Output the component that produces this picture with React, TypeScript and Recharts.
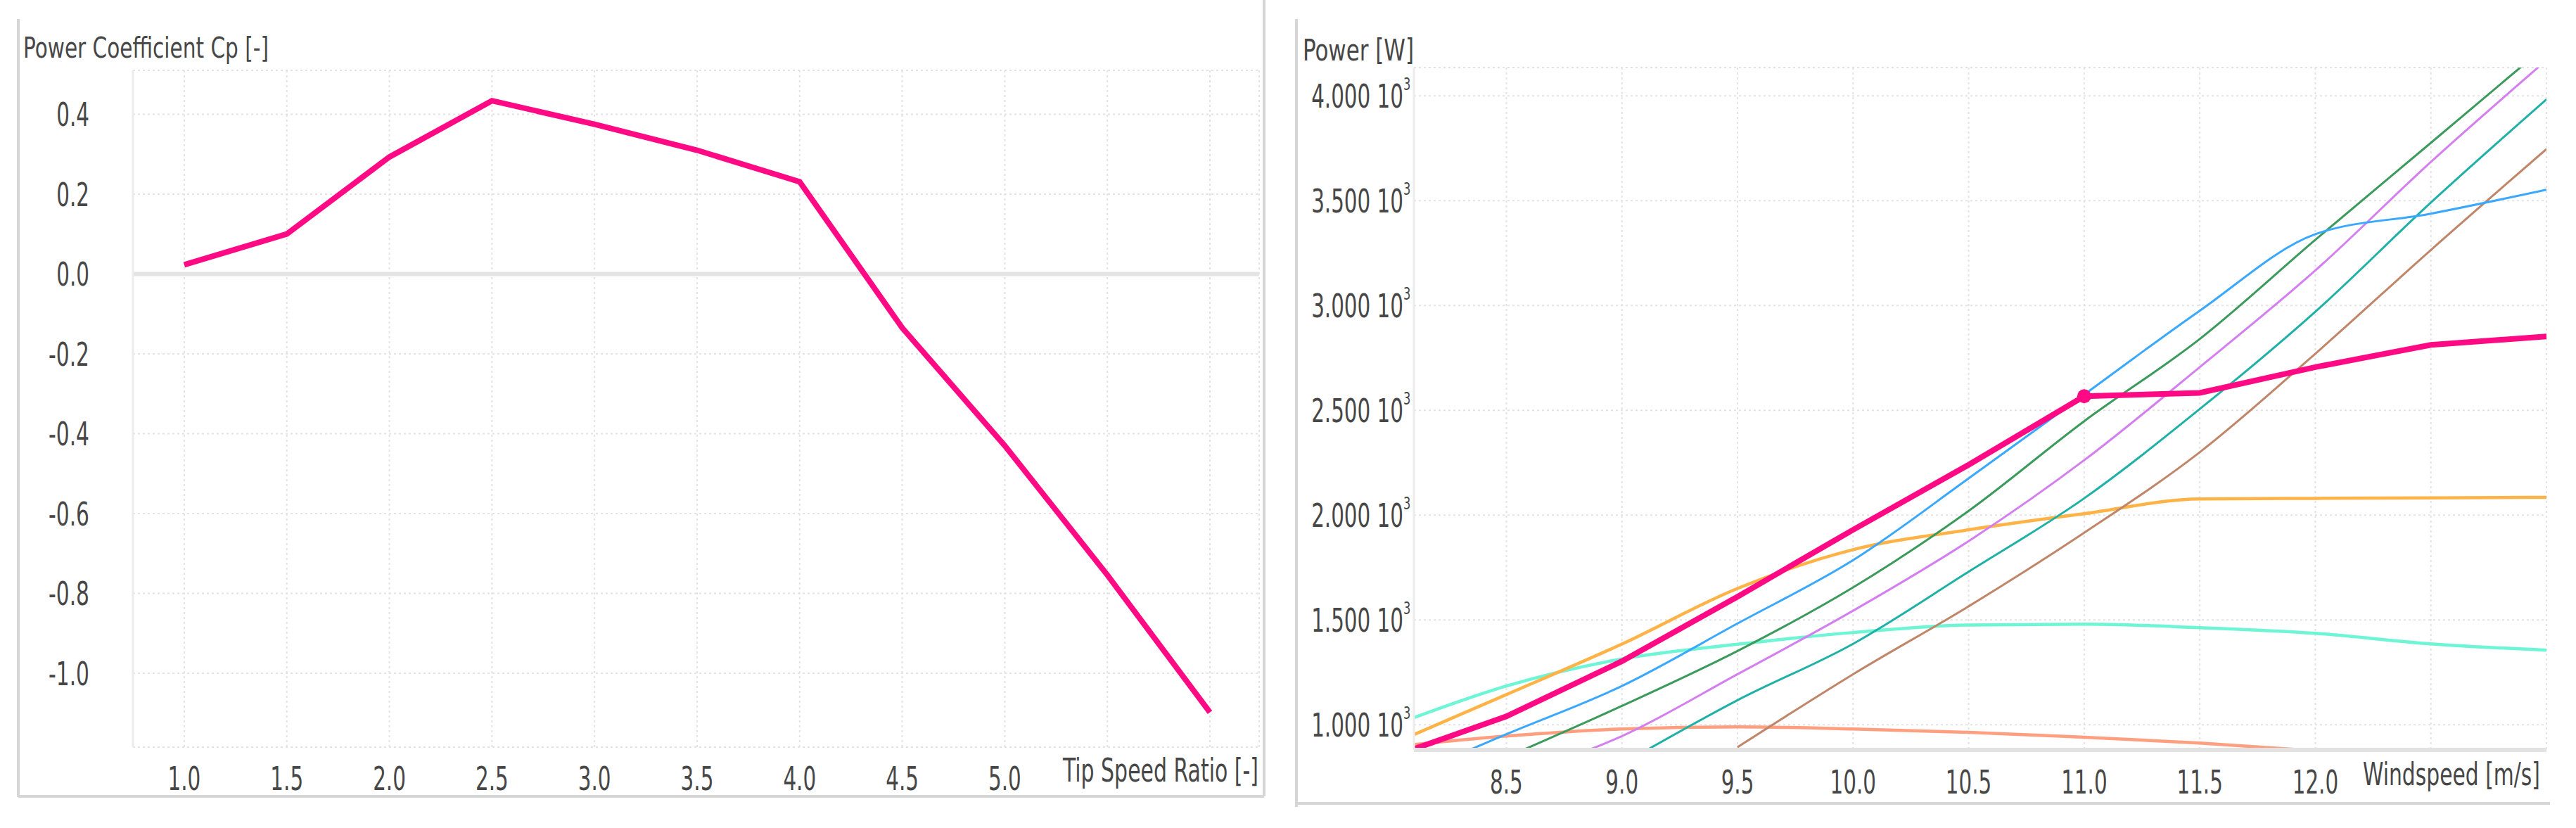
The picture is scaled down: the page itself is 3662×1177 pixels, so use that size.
import React from 'react';
import { LineChart, Line, XAxis, YAxis, CartesianGrid, ReferenceLine } from 'recharts';

// ---- left chart: power coefficient vs tip speed ratio ----
const tipSpeedRatio = [1.0, 1.5, 2.0, 2.5, 3.0, 3.5, 4.0, 4.5, 5.0, 5.5, 6.0];
const powerCoefficient = [0.023, 0.1, 0.293, 0.434, 0.375, 0.31, 0.231, -0.135, -0.43, -0.754, -1.098];
const tsrTicks = [1.0, 1.5, 2.0, 2.5, 3.0, 3.5, 4.0, 4.5, 5.0, 5.5, 6.0];
const cpTicks = [0.4, 0.2, 0.0, -0.2, -0.4, -0.6, -0.8, -1.0];

// ---- right chart: power vs windspeed ----
const windspeed = [8.1, 8.5, 9.0, 9.5, 10.0, 10.5, 11.0, 11.5, 12.0, 12.5, 13.0];
const powerOperating = [884, 1040, 1303, 1611, 1930, 2240, 2567, 2583, 2706, 2812, 2852];
const powerOrange = [953, 1144, 1385, 1650, 1835, 1930, 2007, 2077, 2080, 2082, 2085];
const powerAqua = [1034, 1185, 1314, 1384, 1440, 1476, 1480, 1463, 1436, 1386, 1356];
const powerCoral = [906, 946, 980, 990, 980, 964, 940, 913, 876, null, null];
const powerBlue = [767, 955, 1185, 1483, 1785, 2175, 2575, 2975, 3340, 3438, 3552];
const powerGreen = [null, 845, 1090, 1352, 1655, 2020, 2448, 2840, 3313, 3776, 4240];
const powerViolet = [null, 745, 946, 1241, 1544, 1876, 2262, 2706, 3167, 3685, 4170];
const powerTeal = [null, null, 812, 1117, 1386, 1730, 2080, 2506, 2970, 3491, 3983];
const powerBrown = [null, null, null, 893, 1241, 1565, 1916, 2300, 2770, 3265, 3746];
const operatingWs = 11.0;
const windTicks = [8.5, 9.0, 9.5, 10.0, 10.5, 11.0, 11.5, 12.0, 12.5];
const powerTicks = [1000, 1500, 2000, 2500, 3000, 3500, 4000];

const INK = '#474747';
const PINK = '#ff0a84';
const FONT = '"Liberation Sans Narrow", "DejaVu Sans Condensed", "Liberation Sans", sans-serif';
const STRETCH = 1.42;
const FS = 33;

// narrow-font advance widths (em at 41px), used to pin label widths
const glyphWidth = (ch: string) => (/[0-9]/.test(ch) ? 0.456 : ch === '-' ? 0.273 : 0.228);
const measure = (s: string) => s.split('').reduce((w, ch) => w + glyphWidth(ch) * 41, 0);

const cpData = tipSpeedRatio.map((x, i) => ({ x, cp: powerCoefficient[i] }));

const thinSeries = [
  { key: 'coral', values: powerCoral, color: '#ff9f80', width: 4.5 },
  { key: 'aqua', values: powerAqua, color: '#6ef5d5', width: 4.5 },
  { key: 'orange', values: powerOrange, color: '#ffb347', width: 4.5 },
  { key: 'brown', values: powerBrown, color: '#c0866a', width: 3 },
  { key: 'teal', values: powerTeal, color: '#1fb0a6', width: 3 },
  { key: 'violet', values: powerViolet, color: '#d47ff0', width: 3 },
  { key: 'green', values: powerGreen, color: '#3c9a5c', width: 3 },
  { key: 'blue', values: powerBlue, color: '#3aa8ff', width: 3 },
];

const powerData = windspeed.map((ws, i) => {
  const row: Record<string, number | null> = { ws, op: powerOperating[i] };
  thinSeries.forEach((s) => {
    row[s.key] = s.values[i];
  });
  return row;
});

const StretchText = ({ x, y, anchor = 'start', children, size = FS, width, stretch = STRETCH }: any) => (
  <g transform={`translate(${x},${y}) scale(1,${stretch})`}>
    <text
      textAnchor={anchor}
      fontSize={size}
      fill={INK}
      fontFamily={FONT}
      textLength={width}
      lengthAdjust={width ? 'spacingAndGlyphs' : undefined}
    >
      {children}
    </text>
  </g>
);

const CpYTick = ({ x, y, payload }: any) => {
  const label = payload.value.toFixed(1);
  return (
    <StretchText x={x} y={y + 17} anchor="end" width={measure(label)}>
      {label}
    </StretchText>
  );
};

const TsrXTick = ({ x, y, payload }: any) => {
  if (payload.value > 5) return <g />;
  const label = payload.value.toFixed(1);
  return (
    <StretchText x={x} y={y + 61} anchor="middle" width={measure(label)}>
      {label}
    </StretchText>
  );
};

const PowerYTick = ({ x, y, payload }: any) => {
  const label = `${(payload.value / 1000).toFixed(3)} 10`;
  const len = measure(label);
  return (
    <g transform={`translate(${x - 12 - len},${y + 17}) scale(1,${STRETCH})`}>
      <text fontSize={FS} fill={INK} fontFamily={FONT}>
        <tspan textLength={len} lengthAdjust="spacingAndGlyphs">
          {label}
        </tspan>
        <tspan dy={-17.5} fontSize={18}>
          3
        </tspan>
      </text>
    </g>
  );
};

const WindXTick = ({ x, y, payload }: any) => {
  if (payload.value > 12) return <g />;
  const label = payload.value.toFixed(1);
  return (
    <StretchText x={x} y={y + 62} anchor="middle" width={measure(label)}>
      {label}
    </StretchText>
  );
};

const OperatingDot = (p: any) =>
  p.payload && p.payload.ws === operatingWs ? (
    <circle key="op" cx={p.cx} cy={p.cy} r={10} fill={PINK} />
  ) : (
    <g key={`d${p.index}`} />
  );

const gridProps = { stroke: '#e3e3e3', strokeDasharray: '3 4', strokeWidth: 2 };

const App = () => (
  <div style={{ position: 'absolute', left: 0, top: 0, width: 3662, height: 1177, background: '#fff' }}>
    <div style={{ position: 'absolute', left: 0, top: 0 }}>
      <LineChart width={1800} height={1177} data={cpData} margin={{ top: 100, right: 10, bottom: 55, left: 0 }}>
        <CartesianGrid {...gridProps} />
        <XAxis
          dataKey="x"
          type="number"
          domain={[0.75, 6.24]}
          ticks={tsrTicks}
          height={60}
          axisLine={false}
          tickLine={false}
          tickSize={0}
          tickMargin={0}
          tick={<TsrXTick />}
        />
        <YAxis
          type="number"
          domain={[-1.185, 0.51]}
          ticks={cpTicks}
          width={189}
          axisLine={{ stroke: '#ececec', strokeWidth: 3 }}
          tickLine={false}
          tickSize={0}
          tickMargin={62}
          tick={<CpYTick />}
        />
        <ReferenceLine y={0} stroke="#e4e4e4" strokeWidth={6} />
        <Line dataKey="cp" type="linear" stroke={PINK} strokeWidth={8} dot={false} isAnimationActive={false} />
      </LineChart>
    </div>

    <div style={{ position: 'absolute', left: 1800, top: 0 }}>
      <LineChart width={1862} height={1177} data={powerData} margin={{ top: 96, right: 42, bottom: 51, left: 0 }}>
        <CartesianGrid {...gridProps} />
        <XAxis
          dataKey="ws"
          type="number"
          domain={[8.1, 13.0]}
          ticks={windTicks}
          height={60}
          allowDataOverflow
          axisLine={{ stroke: '#e2e2e2', strokeWidth: 6 }}
          tickLine={false}
          tickSize={0}
          tickMargin={0}
          tick={<WindXTick />}
        />
        <YAxis
          type="number"
          domain={[880, 4135]}
          ticks={powerTicks}
          width={210}
          allowDataOverflow
          axisLine={{ stroke: '#ececec', strokeWidth: 3 }}
          tickLine={false}
          tickSize={0}
          tickMargin={3}
          tick={<PowerYTick />}
        />
        {thinSeries.map((s) => (
          <Line
            key={s.key}
            dataKey={s.key}
            type="monotone"
            stroke={s.color}
            strokeWidth={s.width}
            dot={false}
            isAnimationActive={false}
          />
        ))}
        <Line dataKey="op" type="linear" stroke={PINK} strokeWidth={8} dot={OperatingDot} isAnimationActive={false} />
      </LineChart>
    </div>

    <svg width={3662} height={1177} style={{ position: 'absolute', left: 0, top: 0, pointerEvents: 'none' }}>
      <g stroke="#d6d6d6" strokeWidth={4} fill="none">
        <path d="M26,27 V1133 M26,1132 H1797 M1797,0 V1132" />
        <path d="M1843,27 V1147 M1843,1142 H3625" />
      </g>
      <StretchText x={33} y={82} size={30} stretch={1.35} width={349}>
        Power Coefficient Cp [-]
      </StretchText>
      <StretchText x={1511} y={1111} size={32} stretch={1.45} width={278}>
        Tip Speed Ratio [-]
      </StretchText>
      <StretchText x={1852} y={86} size={32} stretch={1.35} width={158}>
        Power [W]
      </StretchText>
      <StretchText x={3359} y={1116} size={32} stretch={1.38} width={252}>
        Windspeed [m/s]
      </StretchText>
    </svg>
  </div>
);

export default App;
